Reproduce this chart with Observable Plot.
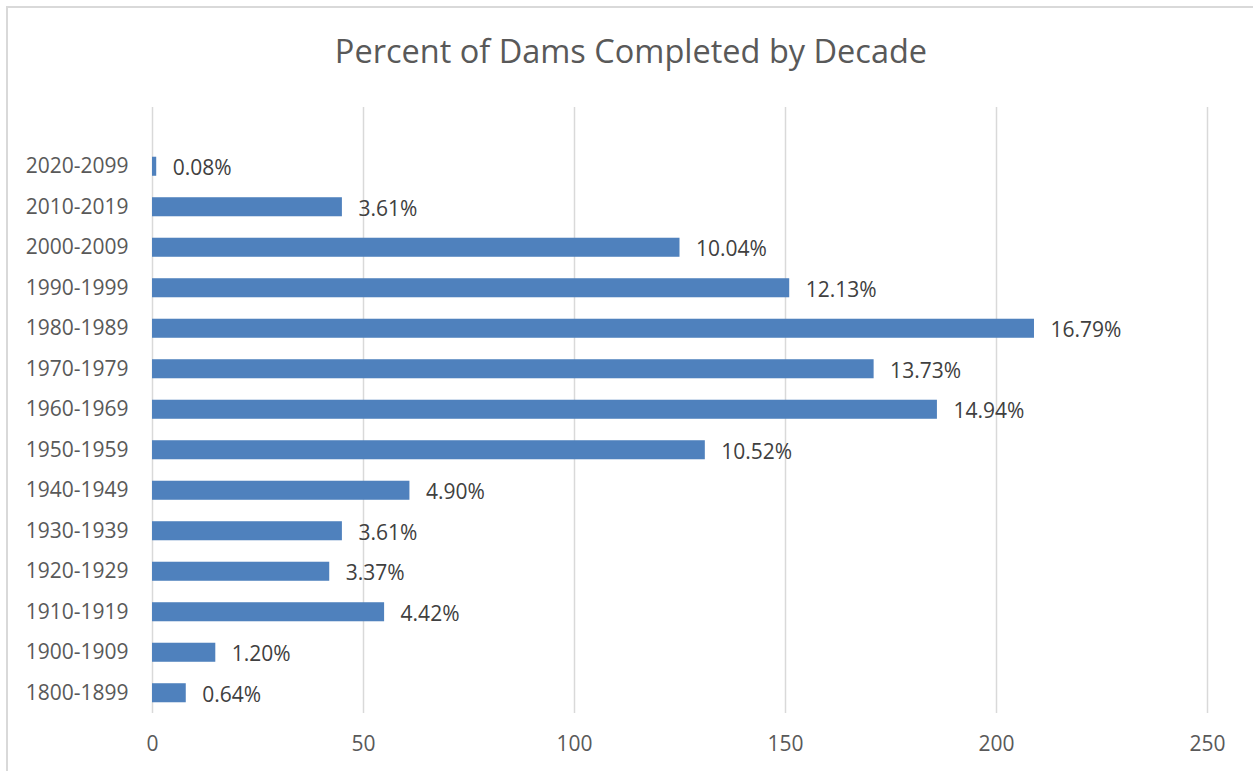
<!DOCTYPE html>
<html>
<head>
<meta charset="utf-8">
<script src="https://cdn.jsdelivr.net/npm/d3@7"></script>
<script src="https://cdn.jsdelivr.net/npm/@observablehq/plot@0.6"></script>
<style>
  html, body { margin: 0; padding: 0; overflow: hidden; background: white; width: 1253px; height: 771px; }
  #frame { position: absolute; left: 6px; top: 6px; width: 1400px; height: 900px; border: 2px solid #d9d9d9; box-sizing: border-box; }
  #title { position: absolute; left: 0; top: 35px; width: 1253px; padding-left: 9px; box-sizing: border-box; text-align: center;
           font-family: "Open Sans", sans-serif; font-size: 32.5px; line-height: 32px; color: #595959; }
  #chart { position: absolute; left: 0; top: 80px; }
</style>
</head>
<body>
<div id="frame"></div>
<div id="title">Percent of Dams Completed by Decade</div>
<div id="chart"></div>
<script>
const categories = ["1800-1899","1900-1909","1910-1919","1920-1929","1930-1939","1940-1949","1950-1959","1960-1969","1970-1979","1980-1989","1990-1999","2000-2009","2010-2019","2020-2099"];
const counts = [8, 15, 55, 42, 45, 61, 131, 186, 171, 209, 151, 125, 45, 1];
const percentLabels = ["0.64%","1.20%","4.42%","3.37%","3.61%","4.90%","10.52%","14.94%","13.73%","16.79%","12.13%","10.04%","3.61%","0.08%"];
const xTicks = [0, 50, 100, 150, 200, 250];

const data = categories.map((c, i) => ({cat: c, count: counts[i], label: percentLabels[i]}));

const chart = Plot.plot({
  width: 1253,
  height: 691,
  marginTop: 27,
  marginBottom: 58,
  marginLeft: 152,
  marginRight: 46,
  style: {background: "transparent", color: "#595959", fontFamily: "Open Sans, sans-serif", fontSize: "21px"},
  x: {domain: [0, 250], ticks: xTicks, tickSize: 0, tickPadding: 23, label: null},
  y: {domain: categories.slice().reverse(), range: [66, 633], round: false, paddingInner: 0.53, paddingOuter: 0.265, tickSize: 0, tickPadding: 24, label: null},
  marks: [
    Plot.ruleX(xTicks, {stroke: "#d9d9d9", strokeWidth: 1.5}),
    Plot.barX(data, {x: "count", y: "cat", fill: "#4f81bd"}),
    Plot.text(data, {x: "count", y: "cat", text: "label", textAnchor: "start", dx: 16, dy: 2, fill: "#404040", fontSize: 21})
  ]
});
document.getElementById("chart").appendChild(chart);
</script>
</body>
</html>
